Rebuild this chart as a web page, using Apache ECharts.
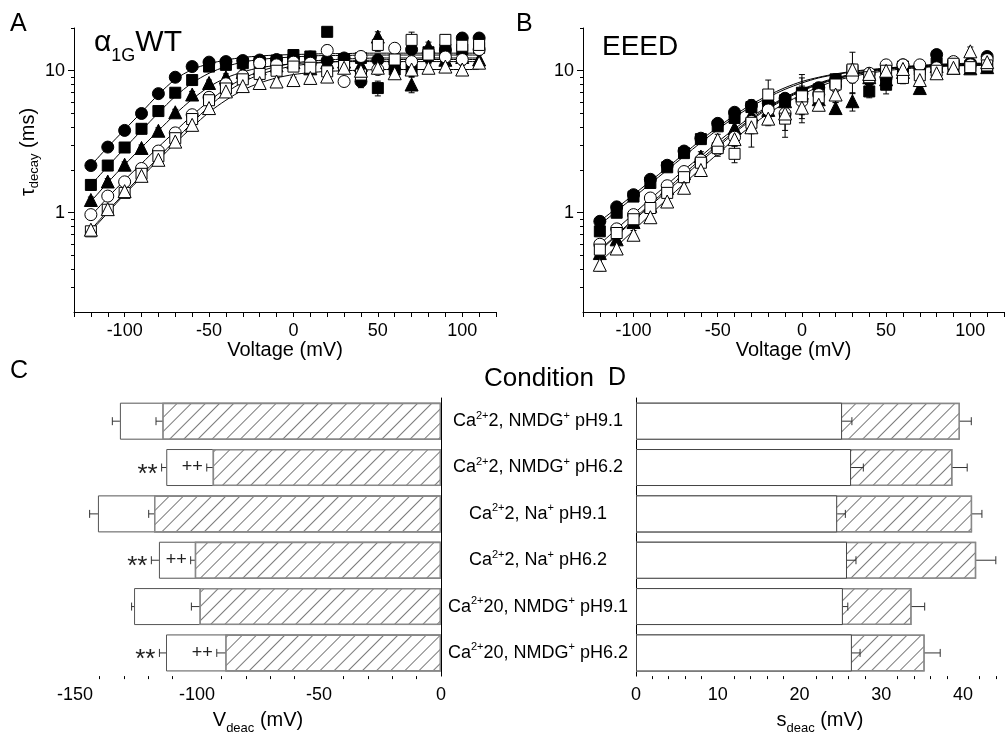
<!DOCTYPE html>
<html>
<head>
<meta charset="utf-8">
<script src="https://cdn.jsdelivr.net/npm/echarts@6/dist/echarts.min.js"></script>
<style>
  html, body { margin: 0; padding: 0; background: #fff; }
  #chart { width: 1007px; height: 736px; }
</style>
</head>
<body>
<div id="chart"></div>
<script>
// Test potentials (mV), shared by panels A and B
const voltages = [-120, -110, -100, -90, -80, -70, -60, -50, -40, -30, -20, -10,
  0, 10, 20, 30, 40, 50, 60, 70, 80, 90, 100, 110];

// Panel A (alpha1G WT) tau_decay, ms
const wtClosedCircle = [2.15, 2.9, 3.8, 5.0, 6.9, 9.0, 10.7, 11.5, 11.6, 11.8, 11.9, 12.0, 12.3, 12.5, 11.8, 12.3, 8.4, 11.9, 11.5, 14.1, 12.5, 14.0, 17.0, 17.0];
const wtClosedSquare = [1.57, 2.15, 2.88, 3.9, 5.2, 7.0, 8.6, 10.7, 11.0, 11.3, 11.5, 11.8, 12.9, 12.6, 18.8, 12.0, 12.3, 7.55, 10.2, 10.2, 13.5, 14.1, 14.1, 14.5];
const wtClosedTri = [1.23, 1.66, 2.18, 2.86, 3.78, 5.1, 6.8, 8.2, 9.0, 9.8, 10.4, 10.9, 11.5, 10.4, 11.5, 11.6, 11.0, 17.4, 11.3, 8.0, 14.8, 11.95, 12.5, 12.0];
const wtOpenCircle = [0.97, 1.31, 1.65, 2.05, 2.72, 3.65, 4.9, 6.5, 8.1, 9.2, 11.3, 11.0, 11.5, 11.3, 13.9, 8.4, 12.6, 10.2, 14.4, 11.6, 13.0, 12.5, 12.0, 14.1];
const wtOpenSquare = [0.74, 1.05, 1.38, 1.88, 2.5, 3.35, 4.57, 6.2, 7.5, 8.7, 9.5, 10.0, 10.7, 10.5, 9.9, 10.8, 9.4, 15.2, 12.0, 16.5, 13.0, 16.5, 15.0, 15.2];
const wtOpenTri = [0.76, 1.06, 1.42, 1.82, 2.36, 3.17, 4.16, 5.46, 7.15, 7.8, 8.2, 8.4, 8.6, 8.9, 9.1, 10.5, 10.0, 10.5, 9.6, 10.2, 10.5, 10.7, 10.2, 11.4];

const wtClosedCircleErr = [0.08, 0.1, 0.12, 0.15, 0.2, 0.3, 0.4, 0.4, 0.5, 0.5, 0.5, 0.6, 0.6, 0.8, 0.7, 0.9, 0.8, 1.2, 0.9, 1.0, 1.1, 1.3, 1.4, 1.3];
const wtClosedSquareErr = [0.12, 0.17, 0.2, 0.3, 0.4, 0.5, 0.6, 0.6, 0.6, 0.7, 0.7, 0.8, 0.9, 0.9, 1.0, 1.1, 1.0, 0.9, 1.0, 1.1, 1.2, 1.3, 1.2, 1.3];
const wtClosedTriErr = [0.06, 0.08, 0.1, 0.14, 0.18, 0.25, 0.35, 0.4, 0.5, 0.5, 0.6, 0.6, 0.7, 0.8, 0.9, 0.9, 1.0, 1.4, 1.0, 1.0, 1.1, 1.0, 1.2, 1.2];
const wtOpenCircleErr = [0.05, 0.07, 0.08, 0.1, 0.14, 0.2, 0.25, 0.35, 0.45, 0.5, 0.6, 0.6, 0.7, 0.8, 1.2, 0.6, 0.8, 0.7, 1.1, 0.9, 1.0, 0.9, 1.0, 1.2];
const wtOpenSquareErr = [0.04, 0.05, 0.07, 0.1, 0.12, 0.18, 0.22, 0.3, 0.4, 0.5, 0.5, 0.5, 0.6, 0.6, 0.7, 0.7, 0.8, 1.5, 1.0, 2.2, 1.2, 1.4, 1.3, 1.4];
const wtOpenTriErr = [0.03, 0.05, 0.06, 0.08, 0.1, 0.13, 0.18, 0.25, 0.3, 0.35, 0.4, 0.4, 0.4, 0.5, 0.5, 0.6, 0.6, 0.6, 0.6, 0.7, 0.7, 0.7, 0.8, 0.8];

// fitted curves in A
const wtClosedCircleFit = [2.15, 2.9, 3.85, 5.1, 6.8, 8.7, 10.2, 11.2, 11.9, 12.4, 12.7, 12.9, 13.0, 13.1, 13.2, 13.2, 13.3, 13.3, 13.3, 13.3, 13.3, 13.3, 13.3, 13.3];
const wtClosedSquareFit = [1.57, 2.12, 2.85, 3.8, 5.05, 6.6, 8.2, 9.6, 10.7, 11.5, 12.0, 12.3, 12.5, 12.7, 12.8, 12.8, 12.9, 12.9, 12.9, 12.9, 12.9, 12.9, 12.9, 12.9];
const wtClosedTriFit = [1.2, 1.63, 2.18, 2.88, 3.78, 4.95, 6.3, 7.7, 8.9, 9.8, 10.5, 10.9, 11.2, 11.4, 11.5, 11.6, 11.6, 11.6, 11.6, 11.6, 11.6, 11.6, 11.6, 11.6];
const wtOpenCircleFit = [0.95, 1.28, 1.7, 2.22, 2.9, 3.75, 4.85, 6.1, 7.5, 8.8, 9.9, 10.7, 11.3, 11.7, 11.9, 12.1, 12.2, 12.3, 12.3, 12.3, 12.3, 12.3, 12.3, 12.3];
const wtOpenSquareFit = [0.76, 1.03, 1.38, 1.84, 2.45, 3.25, 4.3, 5.6, 7.0, 8.3, 9.4, 10.2, 10.8, 11.2, 11.5, 11.7, 11.8, 11.9, 12.0, 12.0, 12.0, 12.0, 12.0, 12.0];
const wtOpenTriFit = [0.74, 1.0, 1.35, 1.78, 2.35, 3.1, 4.0, 5.1, 6.2, 7.3, 8.2, 8.9, 9.4, 9.7, 9.9, 10.0, 10.1, 10.2, 10.2, 10.2, 10.2, 10.2, 10.2, 10.2];

// Panel B (EEED) tau_decay, ms
const eeedClosedCircle = [0.87, 1.1, 1.34, 1.72, 2.16, 2.72, 3.35, 4.26, 5.1, 5.7, 5.9, 6.4, 6.9, 7.6, 8.6, 9.3, 8.6, 8.9, 11.0, 10.4, 13.0, 11.2, 11.3, 12.6];
const eeedClosedSquare = [0.74, 1.0, 1.3, 1.62, 2.09, 2.63, 3.3, 4.06, 4.65, 5.55, 5.6, 6.2, 7.0, 7.4, 8.7, 10.0, 7.15, 7.97, 10.7, 10.2, 11.3, 10.7, 10.8, 10.7];
const eeedClosedTri = [0.52, 0.65, 0.86, 1.12, 1.49, 1.9, 2.49, 3.1, 3.95, 4.9, 5.3, 6.1, 7.0, 6.3, 5.46, 6.1, 9.0, 8.7, 9.8, 7.55, 10.8, 10.5, 10.4, 10.6];
const eeedOpenCircle = [0.6, 0.77, 0.97, 1.27, 1.55, 1.95, 2.35, 2.8, 3.4, 4.4, 5.3, 5.0, 6.1, 6.8, 7.8, 9.0, 9.6, 11.0, 11.0, 11.0, 10.5, 11.6, 11.0, 12.0];
const eeedOpenSquare = [0.55, 0.72, 0.9, 1.08, 1.38, 1.78, 2.25, 2.85, 2.6, 4.3, 6.8, 4.6, 6.6, 6.5, 8.0, 10.2, 9.0, 10.0, 8.9, 9.3, 10.0, 11.2, 10.6, 10.9];
const eeedOpenTri = [0.43, 0.56, 0.7, 0.93, 1.2, 1.5, 2.0, 3.27, 3.3, 4.0, 4.6, 5.0, 5.5, 5.76, 6.8, 10.2, 9.5, 10.0, 10.3, 8.6, 9.6, 10.5, 13.7, 11.5];

const eeedClosedCircleErr = [0.04, 0.05, 0.06, 0.08, 0.1, 0.12, 0.15, 0.2, 0.3, 0.4, 0.5, 0.5, 0.6, 0.6, 0.7, 0.8, 0.7, 0.7, 0.7, 0.8, 0.9, 0.8, 0.8, 0.9];
const eeedClosedSquareErr = [0.04, 0.05, 0.06, 0.08, 0.1, 0.12, 0.15, 0.2, 0.25, 0.7, 0.5, 0.6, 2.4, 0.8, 0.8, 1.0, 0.7, 1.1, 0.6, 0.7, 0.8, 0.7, 0.8, 0.7];
const eeedClosedTriErr = [0.05, 0.05, 0.06, 0.08, 0.1, 0.12, 0.2, 0.25, 0.3, 0.4, 0.5, 0.6, 0.8, 0.6, 0.5, 0.9, 0.7, 0.8, 0.7, 0.6, 0.7, 0.7, 0.7, 0.7];
const eeedOpenCircleErr = [0.04, 0.05, 0.07, 0.08, 0.1, 0.14, 0.18, 0.3, 0.3, 0.5, 0.6, 1.6, 0.8, 0.7, 0.7, 0.8, 0.6, 0.6, 0.6, 0.7, 0.6, 0.7, 0.7, 0.8];
const eeedOpenSquareErr = [0.04, 0.05, 0.06, 0.07, 0.09, 0.12, 0.16, 0.25, 0.35, 1.4, 1.8, 0.8, 2.3, 0.6, 0.7, 3.3, 0.8, 0.9, 0.8, 0.7, 0.8, 0.7, 0.8, 0.8];
const eeedOpenTriErr = [0.04, 0.05, 0.05, 0.07, 0.09, 0.12, 0.15, 0.3, 0.35, 0.4, 0.5, 0.5, 0.6, 0.3, 0.8, 0.9, 0.7, 0.7, 0.7, 0.8, 0.7, 0.7, 1.0, 0.8];

const eeedClosedCircleFit = [0.87, 1.08, 1.34, 1.67, 2.08, 2.6, 3.25, 4.0, 4.85, 5.8, 6.7, 7.6, 8.4, 9.0, 9.5, 9.9, 10.2, 10.4, 10.6, 10.7, 10.8, 10.9, 11.0, 11.0];
const eeedClosedSquareFit = [0.82, 1.03, 1.28, 1.6, 2.0, 2.5, 3.12, 3.85, 4.7, 5.6, 6.5, 7.4, 8.2, 8.9, 9.4, 9.8, 10.1, 10.4, 10.6, 10.7, 10.8, 10.9, 10.9, 11.0];
const eeedClosedTriFit = [0.54, 0.69, 0.88, 1.12, 1.42, 1.8, 2.3, 2.9, 3.65, 4.5, 5.4, 6.3, 7.2, 8.0, 8.7, 9.3, 9.8, 10.2, 10.5, 10.7, 10.9, 11.0, 11.1, 11.2];
const eeedOpenCircleFit = [0.6, 0.77, 0.98, 1.25, 1.58, 2.0, 2.5, 3.15, 3.9, 4.75, 5.6, 6.5, 7.4, 8.2, 8.9, 9.5, 10.0, 10.4, 10.7, 10.9, 11.1, 11.2, 11.3, 11.3];
const eeedOpenSquareFit = [0.55, 0.7, 0.9, 1.15, 1.47, 1.88, 2.38, 3.0, 3.75, 4.6, 5.5, 6.4, 7.3, 8.1, 8.8, 9.4, 9.9, 10.3, 10.6, 10.8, 11.0, 11.1, 11.2, 11.2];
const eeedOpenTriFit = [0.45, 0.58, 0.75, 0.97, 1.25, 1.6, 2.05, 2.6, 3.3, 4.1, 5.0, 5.9, 6.8, 7.7, 8.5, 9.1, 9.6, 10.0, 10.3, 10.5, 10.7, 10.8, 10.9, 11.0];

// Panels C and D
const conditions = ['Ca2+2, NMDG+ pH9.1', 'Ca2+2, NMDG+ pH6.2', 'Ca2+2, Na+ pH9.1',
  'Ca2+2, Na+ pH6.2', 'Ca2+20, NMDG+ pH9.1', 'Ca2+20, NMDG+ pH6.2'];
const vdeacOpen = [-131.6, -112.6, -140.6, -115.6, -125.8, -112.7];
const vdeacOpenErr = [3.1, 1.9, 3.4, 3.1, 1.0, 2.7];
const vdeacHatched = [-114.2, -93.6, -117.6, -100.9, -99.0, -88.4];
const vdeacHatchedErr = [2.6, 2.4, 2.2, 1.7, 3.3, 3.5];
const vdeacOpenNote = ['', '**', '', '**', '', '**'];
const vdeacHatchedNote = ['', '++', '', '++', '', '++'];
const sdeacOpen = [25.2, 26.3, 24.6, 25.8, 25.3, 26.4];
const sdeacOpenErr = [1.2, 1.5, 1.0, 1.1, 0.6, 1.0];
const sdeacHatched = [39.6, 38.7, 41.1, 41.6, 33.7, 35.3];
const sdeacHatchedErr = [1.4, 1.8, 1.2, 2.4, 1.6, 1.9];

const tauMajorTicks = [1, 10];
const tauMinorTicks = [0.3, 0.4, 0.5, 0.6, 0.7, 0.8, 0.9, 2, 3, 4, 5, 6, 7, 8, 9, 20];

const FONT = '"Liberation Sans", Arial, Helvetica, sans-serif';

const markerStyles = [
  { symbol: 'circle', size: 12, fill: '#000' },
  { symbol: 'rect', size: 11, fill: '#000' },
  { symbol: 'triangle', size: 13, fill: '#000' },
  { symbol: 'circle', size: 12, fill: '#fff' },
  { symbol: 'rect', size: 11, fill: '#fff' },
  { symbol: 'triangle', size: 13, fill: '#fff' },
];

const hatch = {
  symbol: 'rect',
  symbolSize: 1,
  dashArrayX: [1, 0],
  dashArrayY: [1, 9],
  rotation: -Math.PI / 4,
  color: '#7a7a7a',
  backgroundColor: '#fff',
};

const vErrRender = (params, api) => {
  const x = api.value(0)
  const y = api.value(1)
  const e = api.value(2)
  if (!e) return null
  const top = api.coord([x, y + e])
  const bot = api.coord([x, Math.max(y - e, 0.201)])
  const w = 3
  const st = { stroke: '#000', lineWidth: 1 }
  return {
    type: 'group',
    children: [
      { type: 'line', shape: { x1: top[0], y1: top[1], x2: bot[0], y2: bot[1] }, style: st },
      { type: 'line', shape: { x1: top[0] - w, y1: top[1], x2: top[0] + w, y2: top[1] }, style: st },
      { type: 'line', shape: { x1: bot[0] - w, y1: bot[1], x2: bot[0] + w, y2: bot[1] }, style: st },
    ],
  }
}

// horizontal error bar pointing away from zero, with optional significance marks
const makeHErr = (notes, noteSize, noteDy) => (params, api) => {
  const x = api.value(0)
  const cat = api.value(1)
  const e = api.value(2)
  const dir = x < 0 ? -1 : 1
  const a = api.coord([x, cat])
  const b = api.coord([x + dir * e, cat])
  const st = { stroke: '#333', lineWidth: 1 }
  const children = [
    { type: 'line', shape: { x1: a[0], y1: a[1], x2: b[0], y2: b[1] }, style: st },
    { type: 'line', shape: { x1: b[0], y1: b[1] - 4, x2: b[0], y2: b[1] + 4 }, style: st },
  ]
  const note = notes && notes[params.dataIndex]
  if (note) {
    children.push({
      type: 'text',
      style: {
        text: note, x: b[0] - 4, y: a[1] + noteDy, align: 'right', verticalAlign: 'middle',
        fontSize: noteSize, fontFamily: FONT, fill: '#222',
      },
    })
  }
  return { type: 'group', children }
}

const tauSeries = (panel, values, errs, fits) => {
  const out = []
  fits.forEach((f) => {
    out.push({
      type: 'line', xAxisIndex: panel, yAxisIndex: panel * 2, smooth: 0.3, showSymbol: false, z: 2,
      lineStyle: { color: '#000', width: 1 }, silent: true,
      data: voltages.map((v, i) => [v, f[i]]),
    })
  })
  errs.forEach((e, k) => {
    out.push({
      type: 'custom', xAxisIndex: panel, yAxisIndex: panel * 2, renderItem: vErrRender, silent: true, z: 3,
      data: voltages.map((v, i) => [v, values[k][i], e[i]]),
    })
  })
  values.forEach((vals, k) => {
    const m = markerStyles[k]
    out.push({
      type: 'scatter', xAxisIndex: panel, yAxisIndex: panel * 2, z: 4,
      symbol: m.symbol, symbolSize: m.size,
      itemStyle: { color: m.fill, borderColor: '#000', borderWidth: 1, opacity: 1 },
      data: voltages.map((v, i) => [v, vals[i]]),
    })
  })
  return out
}

const voltageAxis = (grid) => ({
  type: 'value', gridIndex: grid, min: -130, max: 120, interval: 10,
  name: 'Voltage (mV)', nameLocation: 'middle', nameGap: 27,
  nameTextStyle: { fontSize: 20, color: '#000', fontFamily: FONT },
  axisLine: { onZero: false, lineStyle: { color: '#000' } },
  axisTick: { length: 5, lineStyle: { color: '#000' } },
  axisLabel: {
    fontSize: 18, color: '#000', margin: 10, fontFamily: FONT,
    formatter: (v) => (v % 50 === 0 ? String(v) : ''),
  },
  splitLine: { show: false },
})

const tauAxes = (grid, withName) => [
  {
    type: 'log', logBase: 10, gridIndex: grid, min: 0.2, max: 20, position: 'left',
    name: withName ? '{t|τ}{s|decay}{t| (ms)}' : '',
    nameLocation: 'middle', nameRotate: 90, nameGap: 27,
    nameTextStyle: {
      padding: [0, 0, 0, 36],
      rich: {
        t: { fontSize: 20, lineHeight: 26, fontFamily: FONT, color: '#000' },
        s: { fontSize: 13, lineHeight: 12, verticalAlign: 'bottom', fontFamily: FONT, color: '#000' },
      },
    },
    axisLine: { show: true, onZero: false, lineStyle: { color: '#000' } },
    axisTick: { show: true, length: 6, customValues: tauMajorTicks, lineStyle: { color: '#000' } },
    axisLabel: { customValues: tauMajorTicks, fontSize: 18, color: '#000', margin: 9, fontFamily: FONT },
    splitLine: { show: false },
  },
  {
    type: 'log', logBase: 10, gridIndex: grid, min: 0.2, max: 20, position: 'left',
    axisLine: { show: false, onZero: false },
    axisTick: { show: true, length: 3, customValues: tauMinorTicks, lineStyle: { color: '#000' } },
    axisLabel: { show: false },
    splitLine: { show: false },
  },
]

const richCondition = (s) => '{n|' + s.replace(/(\d?\+)/g, '}{s|$1}{n|') + '}'

const option = {
  animation: false,
  backgroundColor: '#fff',
  textStyle: { fontFamily: FONT, color: '#000' },
  grid: [
    { left: 74, top: 28, width: 422, height: 284 },
    { left: 583, top: 28, width: 421, height: 284 },
    { left: 75, top: 398, width: 366, height: 280 },
    { left: 636, top: 398, width: 368, height: 280 },
  ],
  xAxis: [
    voltageAxis(0),
    voltageAxis(1),
    {
      type: 'value', gridIndex: 2, min: -150, max: 0, interval: 50,
      name: 'V{s|deac} (mV)', nameLocation: 'middle', nameGap: 22,
      nameTextStyle: {
        fontSize: 20, lineHeight: 30, color: '#000',
        rich: { s: { fontSize: 13, lineHeight: 10, verticalAlign: 'bottom', color: '#000' } },
      },
      axisLine: { lineStyle: { color: '#000' } },
      axisTick: { length: 5, lineStyle: { color: '#000' } },
      minorTick: { show: true, splitNumber: 5, length: 3, lineStyle: { color: '#000' } },
      axisLabel: { fontSize: 18, color: '#000', margin: 10 },
      splitLine: { show: false },
    },
    {
      type: 'value', gridIndex: 3, min: 0, max: 45, interval: 10,
      name: 's{s|deac} (mV)', nameLocation: 'middle', nameGap: 22,
      nameTextStyle: {
        fontSize: 20, lineHeight: 30, color: '#000',
        rich: { s: { fontSize: 13, lineHeight: 10, verticalAlign: 'bottom', color: '#000' } },
      },
      axisLine: { lineStyle: { color: '#000' } },
      axisTick: { length: 5, lineStyle: { color: '#000' } },
      minorTick: { show: true, splitNumber: 5, length: 3, lineStyle: { color: '#000' } },
      axisLabel: { fontSize: 18, color: '#000', margin: 10, showMaxLabel: false },
      splitLine: { show: false },
    },
  ],
  yAxis: [
    ...tauAxes(0, true),
    ...tauAxes(1, false),
    {
      type: 'category', gridIndex: 2, data: conditions, inverse: true, position: 'right',
      axisLine: { lineStyle: { color: '#000' } },
      axisTick: { length: 3, lineStyle: { color: '#000' } },
      axisLabel: { show: false },
    },
    {
      type: 'category', gridIndex: 3, data: conditions, inverse: true, position: 'left',
      axisLine: { lineStyle: { color: '#000' } },
      axisTick: { length: 3, inside: true, lineStyle: { color: '#000' } },
      axisLabel: {
        align: 'center', margin: 98, formatter: richCondition,
        rich: {
          n: { fontSize: 18, lineHeight: 22, color: '#000', fontFamily: FONT },
          s: { fontSize: 11, lineHeight: 12, verticalAlign: 'top', color: '#000', fontFamily: FONT },
        },
      },
    },
  ],
  graphic: [
    { type: 'text', left: 10, top: 12, style: { text: 'A', fontSize: 25, fontFamily: FONT, fill: '#000' } },
    { type: 'text', left: 516, top: 12, style: { text: 'B', fontSize: 25, fontFamily: FONT, fill: '#000' } },
    { type: 'text', left: 10, top: 359, style: { text: 'C', fontSize: 25, fontFamily: FONT, fill: '#000' } },
    { type: 'text', left: 608, top: 366, style: { text: 'D', fontSize: 25, fontFamily: FONT, fill: '#000' } },
    { type: 'text', left: 484, top: 366, style: { text: 'Condition', fontSize: 26, fontFamily: FONT, fill: '#000' } },
    { type: 'text', left: 602, top: 33, style: { text: 'EEED', fontSize: 28, fontFamily: FONT, fill: '#000' } },
    {
      type: 'text', left: 94, top: 28,
      style: {
        text: '{a|α}{s|1G}{a|WT}',
        rich: {
          a: { fontSize: 30, lineHeight: 44, fontFamily: FONT, fill: '#000' },
          s: { fontSize: 18, lineHeight: 18, verticalAlign: 'bottom', fontFamily: FONT, fill: '#000' },
        },
      },
    },
  ],
  series: [
    ...tauSeries(0,
      [wtClosedCircle, wtClosedSquare, wtClosedTri, wtOpenCircle, wtOpenSquare, wtOpenTri],
      [wtClosedCircleErr, wtClosedSquareErr, wtClosedTriErr, wtOpenCircleErr, wtOpenSquareErr, wtOpenTriErr],
      [wtClosedCircleFit, wtClosedSquareFit, wtClosedTriFit, wtOpenCircleFit, wtOpenSquareFit, wtOpenTriFit]),
    ...tauSeries(1,
      [eeedClosedCircle, eeedClosedSquare, eeedClosedTri, eeedOpenCircle, eeedOpenSquare, eeedOpenTri],
      [eeedClosedCircleErr, eeedClosedSquareErr, eeedClosedTriErr, eeedOpenCircleErr, eeedOpenSquareErr, eeedOpenTriErr],
      [eeedClosedCircleFit, eeedClosedSquareFit, eeedClosedTriFit, eeedOpenCircleFit, eeedOpenSquareFit, eeedOpenTriFit]),

    // C: open bar behind, hatched bar in front
    {
      type: 'bar', xAxisIndex: 2, yAxisIndex: 4, data: vdeacOpen, barWidth: 37, barGap: '-100%', z: 2,
      itemStyle: { color: '#fff', borderColor: '#555', borderWidth: 1 },
    },
    {
      type: 'bar', xAxisIndex: 2, yAxisIndex: 4, data: vdeacHatched, barWidth: 37, barGap: '-100%', z: 3,
      itemStyle: { color: '#fff', borderColor: '#888', borderWidth: 1.5, decal: hatch },
    },
    {
      type: 'custom', xAxisIndex: 2, yAxisIndex: 4, z: 5, renderItem: makeHErr(vdeacOpenNote, 26, 7),
      data: vdeacOpen.map((v, i) => [v, i, vdeacOpenErr[i]]),
    },
    {
      type: 'custom', xAxisIndex: 2, yAxisIndex: 4, z: 5, renderItem: makeHErr(vdeacHatchedNote, 18, 0),
      data: vdeacHatched.map((v, i) => [v, i, vdeacHatchedErr[i]]),
    },

    // D: hatched bar behind, open bar in front
    {
      type: 'bar', xAxisIndex: 3, yAxisIndex: 5, data: sdeacHatched, barWidth: 37, barGap: '-100%', z: 2,
      itemStyle: { color: '#fff', borderColor: '#888', borderWidth: 1.5, decal: hatch },
    },
    {
      type: 'bar', xAxisIndex: 3, yAxisIndex: 5, data: sdeacOpen, barWidth: 37, barGap: '-100%', z: 3,
      itemStyle: { color: '#fff', borderColor: '#444', borderWidth: 1 },
    },
    {
      type: 'custom', xAxisIndex: 3, yAxisIndex: 5, z: 5, renderItem: makeHErr(null, 0, 0),
      data: sdeacHatched.map((v, i) => [v, i, sdeacHatchedErr[i]]),
    },
    {
      type: 'custom', xAxisIndex: 3, yAxisIndex: 5, z: 5, renderItem: makeHErr(null, 0, 0),
      data: sdeacOpen.map((v, i) => [v, i, sdeacOpenErr[i]]),
    },
  ],
}

const chart = echarts.init(document.getElementById('chart'), null, { renderer: 'canvas' })
chart.setOption(option)
</script>
</body>
</html>
